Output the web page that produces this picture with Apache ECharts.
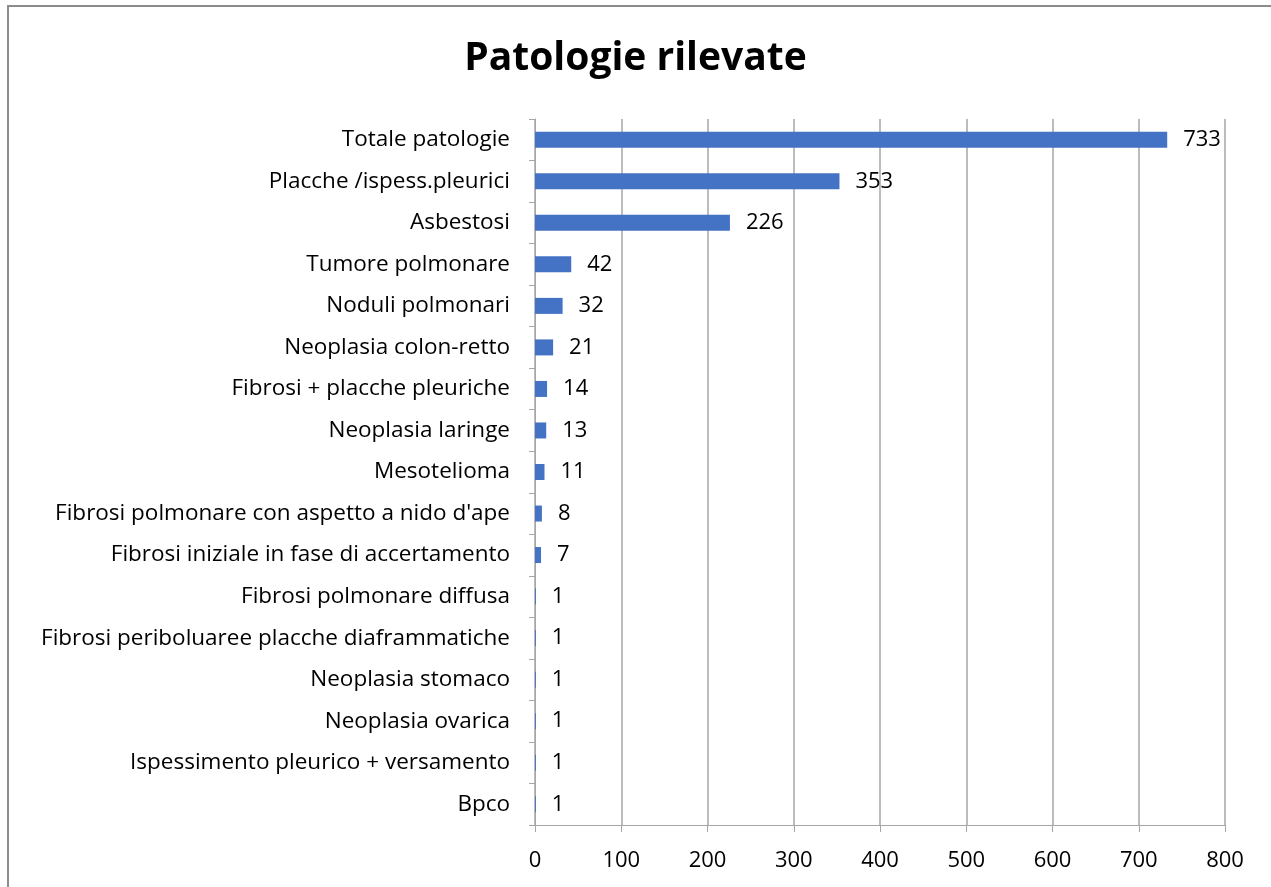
<!DOCTYPE html>
<html>
<head>
<meta charset="utf-8">
<script src="https://cdn.jsdelivr.net/npm/echarts@6/dist/echarts.min.js"></script>
<style>
  html, body { margin: 0; padding: 0; background: #fff; }
  #chart { width: 1271px; height: 887px; }
</style>
</head>
<body>
<div id="chart"></div>
<script>
const categories = [
  'Totale patologie',
  'Placche /ispess.pleurici',
  'Asbestosi',
  'Tumore polmonare',
  'Noduli polmonari',
  'Neoplasia colon-retto',
  'Fibrosi + placche pleuriche',
  'Neoplasia laringe',
  'Mesotelioma',
  "Fibrosi polmonare con aspetto a nido d'ape",
  'Fibrosi iniziale in fase di accertamento',
  'Fibrosi polmonare diffusa',
  'Fibrosi periboluaree placche diaframmatiche',
  'Neoplasia stomaco',
  'Neoplasia ovarica',
  'Ispessimento pleurico + versamento',
  'Bpco'
];
const values = [733, 353, 226, 42, 32, 21, 14, 13, 11, 8, 7, 1, 1, 1, 1, 1, 1];

const font = '"Open Sans", sans-serif';
const gray = '#a6a6a6';

const chart = echarts.init(document.getElementById('chart'));
chart.setOption({
  backgroundColor: '#fff',
  animation: false,
  title: {
    text: 'Patologie rilevate',
    left: 'center',
    top: 34,
    textStyle: { fontFamily: font, fontSize: 39, fontWeight: 'bold', color: '#000' }
  },
  graphic: [{
    type: 'rect',
    shape: { x: 8, y: 6, width: 1300, height: 900 },
    style: { fill: 'none', stroke: '#8c8c8c', lineWidth: 2 },
    silent: true
  }],
  grid: { left: 535, right: 46, top: 119, bottom: 62 },
  xAxis: {
    type: 'value',
    min: 0,
    max: 800,
    interval: 100,
    axisLine: { show: true, lineStyle: { color: gray } },
    axisTick: { show: true, length: 7, lineStyle: { color: gray } },
    splitLine: { show: true, lineStyle: { color: gray, width: 1.5 } },
    axisLabel: { color: '#000', fontFamily: font, fontSize: 22, margin: 25 }
  },
  yAxis: {
    type: 'category',
    inverse: true,
    data: categories,
    axisLine: { show: true, lineStyle: { color: gray } },
    axisTick: { show: true, length: 6, lineStyle: { color: gray } },
    axisLabel: { color: '#000', fontFamily: font, fontSize: 22.5, margin: 25 }
  },
  series: [{
    type: 'bar',
    data: values,
    barWidth: 16,
    itemStyle: { color: '#4472c4' },
    label: {
      show: true,
      position: 'right',
      distance: 16,
      color: '#000',
      fontFamily: font,
      fontSize: 22
    }
  }]
});
</script>
</body>
</html>
